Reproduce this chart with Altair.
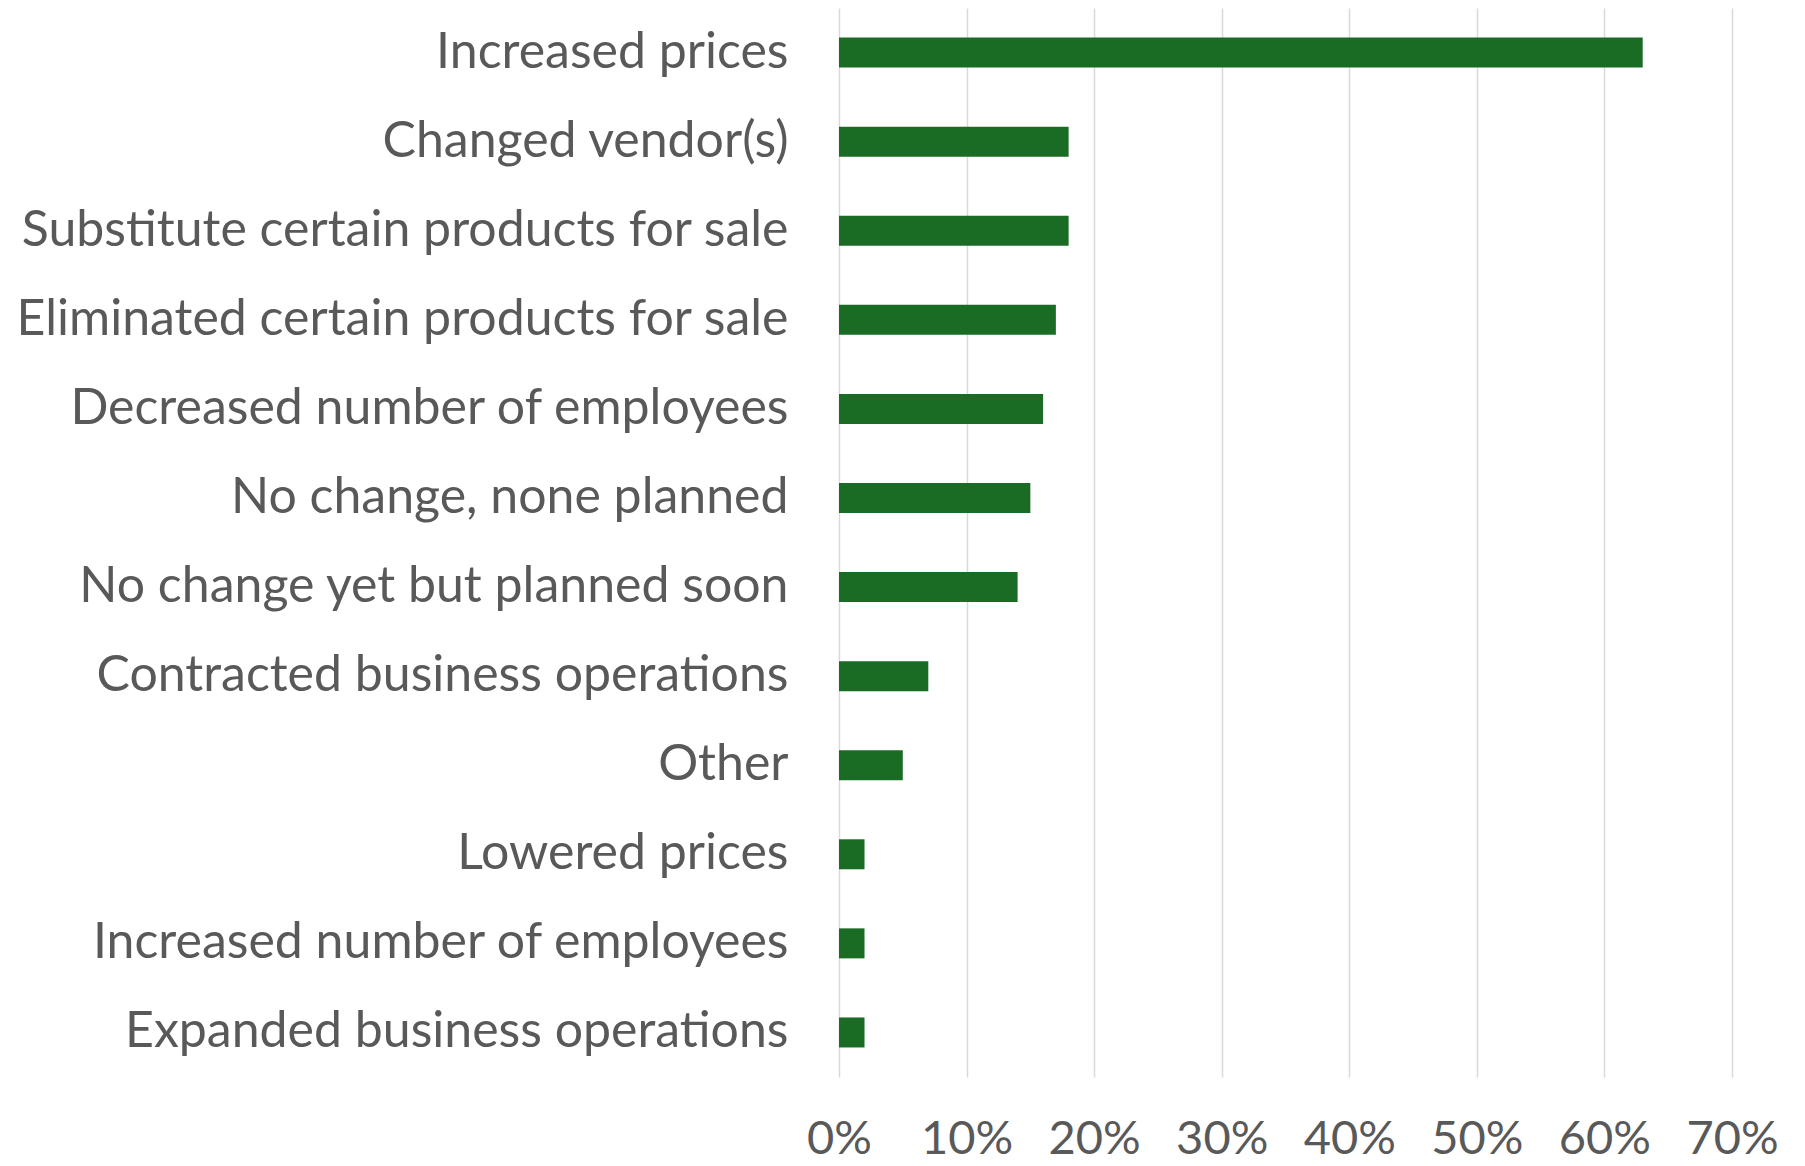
import altair as alt
import pandas as pd

categories = [
    "Increased prices",
    "Changed vendor(s)",
    "Substitute certain products for sale",
    "Eliminated certain products for sale",
    "Decreased number of employees",
    "No change, none planned",
    "No change yet but planned soon",
    "Contracted business operations",
    "Other",
    "Lowered prices",
    "Increased number of employees",
    "Expanded business operations",
]
values = [0.63, 0.18, 0.18, 0.17, 0.16, 0.15, 0.14, 0.07, 0.05, 0.02, 0.02, 0.02]
tick_values = [0, 0.1, 0.2, 0.3, 0.4, 0.5, 0.6, 0.7]

df = pd.DataFrame({"category": categories, "value": values})

FONT = "Lato"

chart = (
    alt.Chart(df)
    .mark_bar(size=30, color="#1a6b24")
    .encode(
        x=alt.X(
            "value:Q",
            scale=alt.Scale(domain=[0, 0.7], nice=False),
            axis=alt.Axis(
                format=".0%",
                values=tick_values,
                title=None,
                domain=False,
                ticks=False,
                grid=True,
                gridColor="#d9d9d9",
                gridWidth=1.5,
                labelFont=FONT,
                labelFontSize=47,
                labelColor="#595959",
                labelPadding=86,
                labelBaseline="bottom",
                labelFlush=False,
                labelOverlap=False,
            ),
        ),
        y=alt.Y(
            "category:N",
            sort=categories,
            scale=alt.Scale(paddingInner=0, paddingOuter=0),
            axis=alt.Axis(
                title=None,
                domain=False,
                ticks=False,
                grid=False,
                labelFont=FONT,
                labelFontSize=50,
                labelColor="#595959",
                labelPadding=51,
                labelLimit=1000,
                minExtent=831,
                maxExtent=831,
            ),
        ),
    )
    .properties(width=893, height=1069, padding=0)
    .configure_view(stroke=None)
)

chart.save("out.html", embed_options={"renderer": "svg", "actions": False})
